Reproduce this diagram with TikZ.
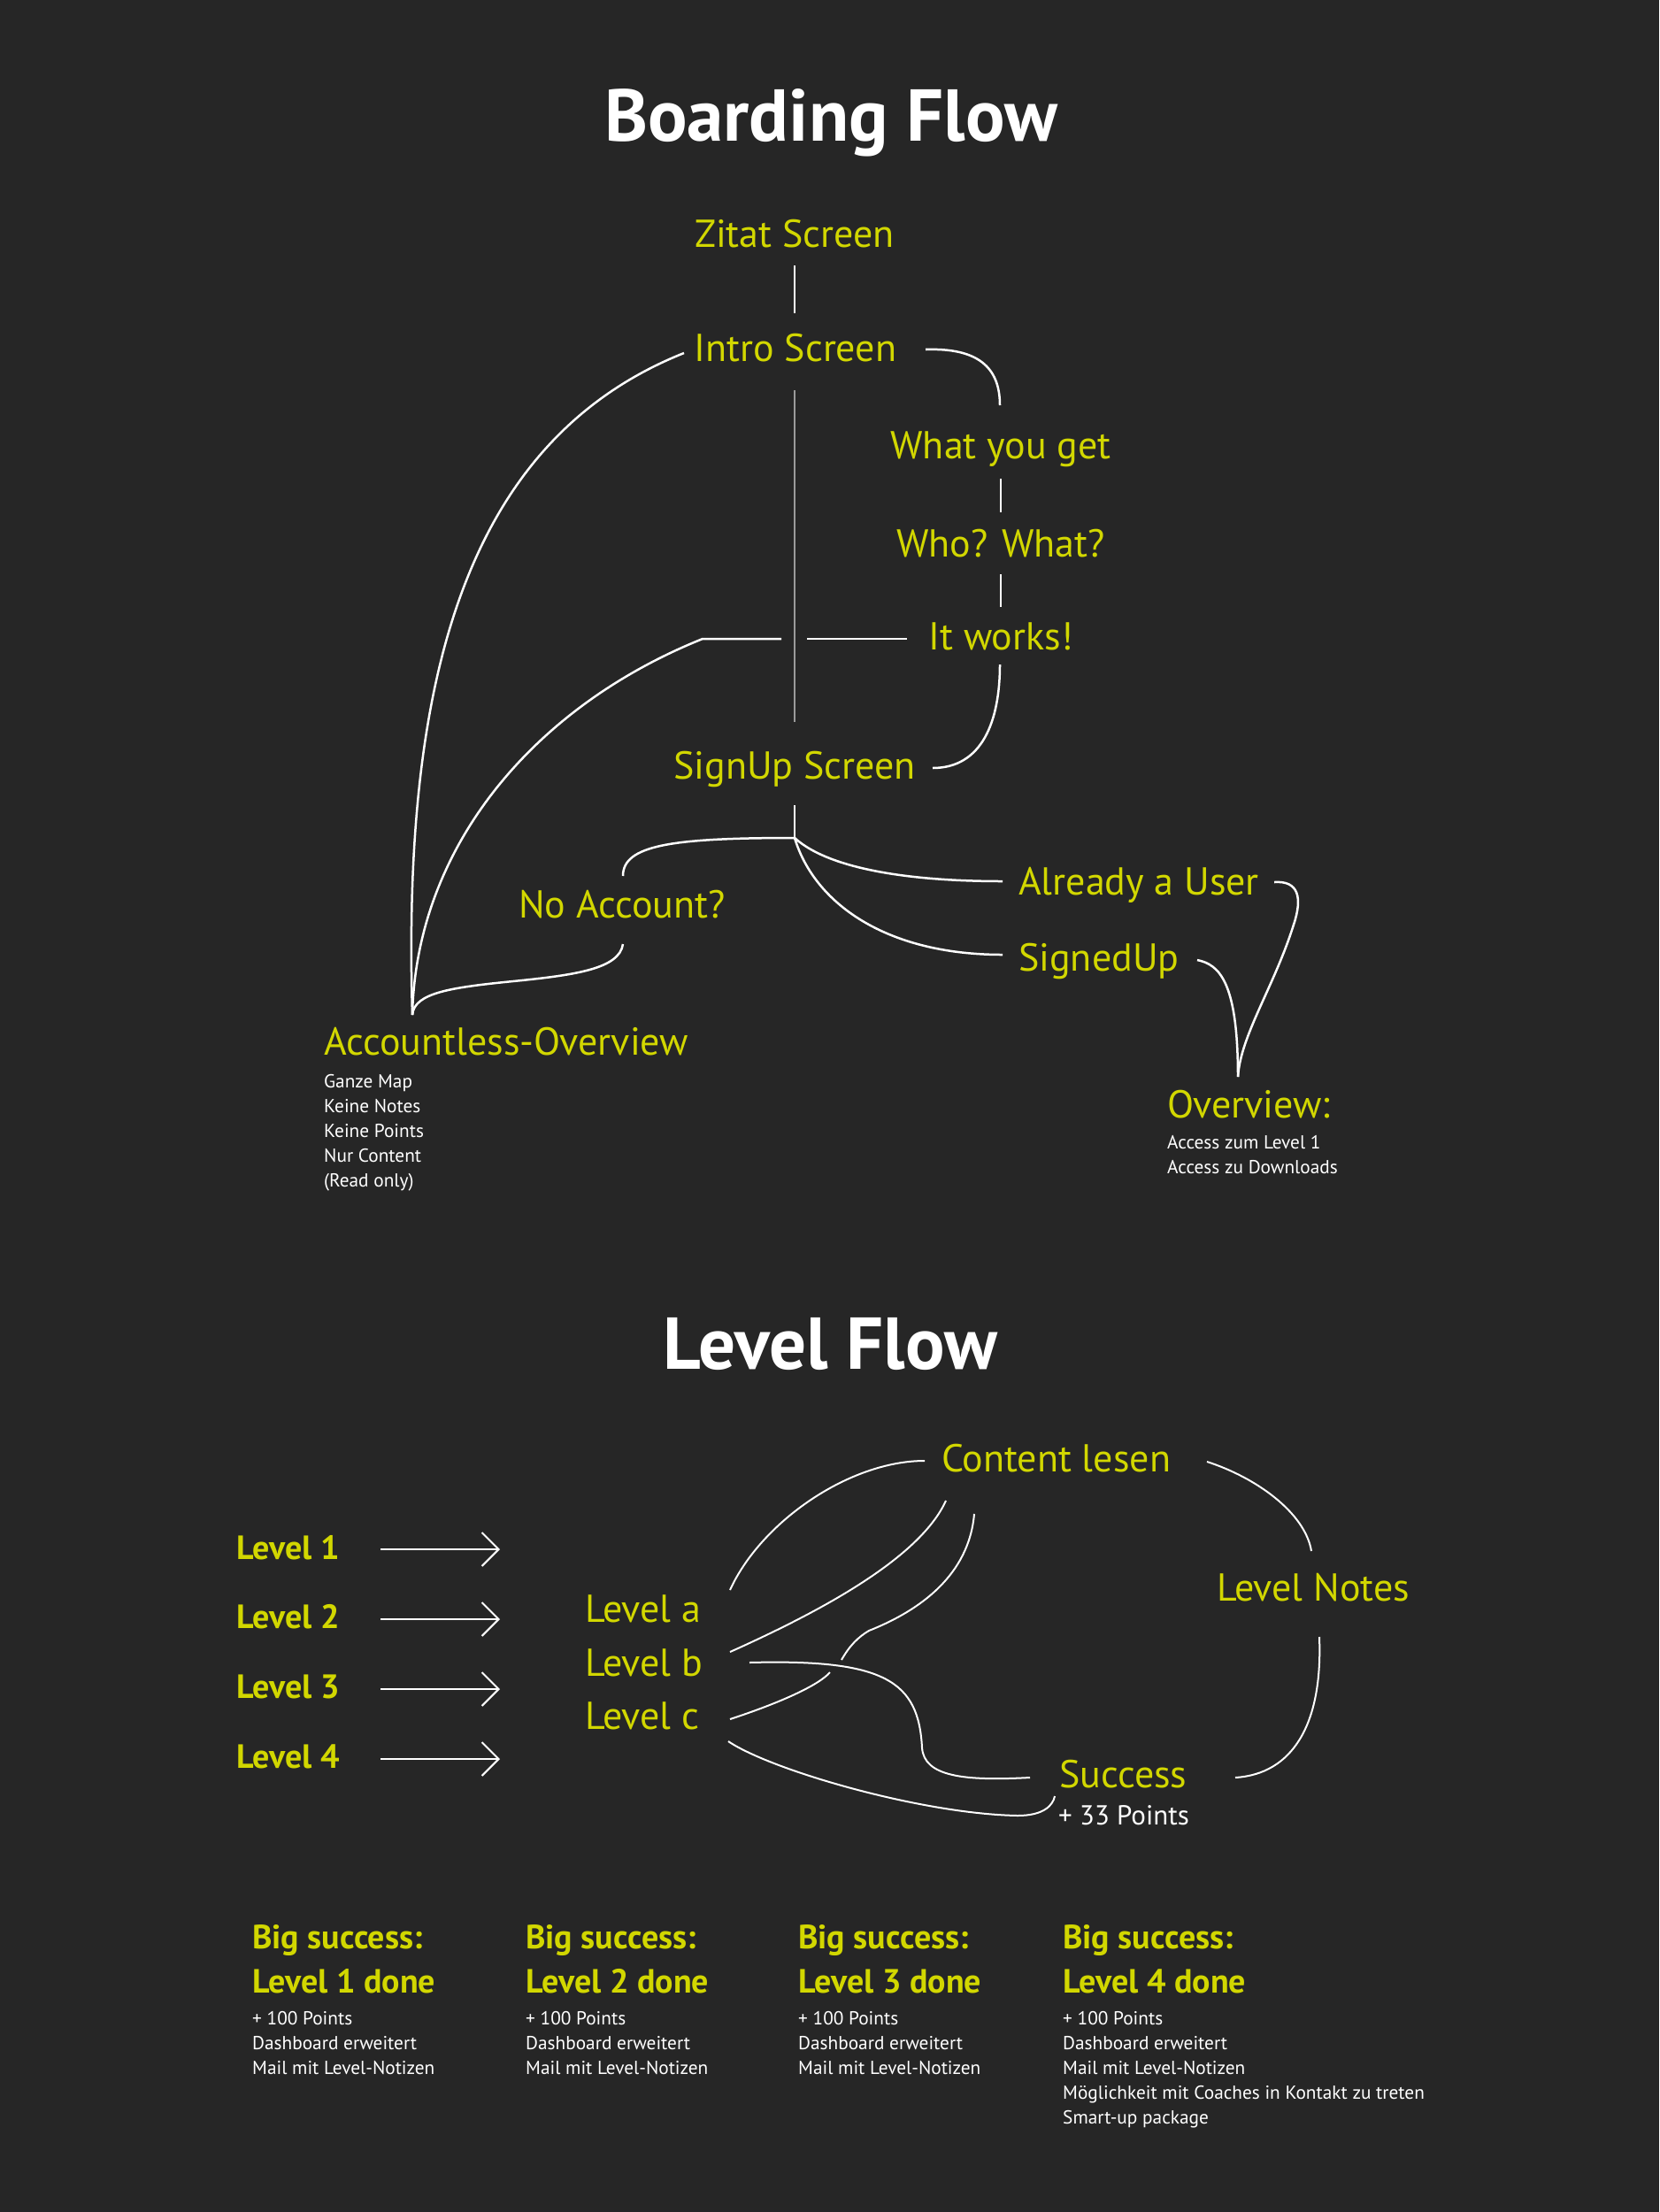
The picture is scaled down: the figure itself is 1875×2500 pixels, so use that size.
\documentclass[tikz,border=0pt]{standalone}
\usepackage{fontspec}
\setmainfont{PT Sans}
\usetikzlibrary{arrows.meta}
\definecolor{bg}{HTML}{262626}
\definecolor{yel}{HTML}{D2D700}
\definecolor{gry}{HTML}{9A9A9A}
\tikzset{
  lbl/.style={text=yel, font=\fontsize{44}{52}\selectfont, inner sep=0pt, anchor=base},
  lblw/.style={lbl, anchor=base west},
  ttl/.style={text=white, font=\bfseries\fontsize{83}{100}\selectfont, inner sep=0pt, anchor=base},
  lvl/.style={text=yel, font=\bfseries\fontsize{38}{50}\selectfont, inner sep=0pt, anchor=base west},
  note/.style={text=white, font=\fontsize{21.3}{28}\selectfont, inner sep=0pt, anchor=base west},
  conn/.style={draw=white, line width=2.5pt},
  thinconn/.style={draw=white, line width=2pt},
  arr/.style={draw=white, line width=2pt, -{Straight Barb[length=19pt,width=38pt]}},
}
\begin{document}
\begin{tikzpicture}[x=1pt,y=-1pt]
\fill[bg] (0,0) rectangle (1875,2500);
\useasboundingbox (0,0) rectangle (1875,2500);

% ---------- Titles
\node[ttl] (tboard) at (939,159) {Boarding Flow};
\node[ttl] (tlevel) at (938,1547) {Level Flow};

% ---------- Boarding flow nodes
\node[lbl] (zitat) at (898,279) {Zitat Screen};
\node[lbl] (intro) at (899,408) {Intro Screen};
\node[lbl] (what) at (1131,518) {What you get};
\node[lbl] (who) at (1131,629) {Who? What?};
\node[lbl] (works) at (1131,734) {It works!};
\node[lbl] (signup) at (898,880) {SignUp Screen};
\node[lbl] (noacc) at (703,1037) {No Account?};
\node[lblw] (already) at (1151,1011) {Already a User};
\node[lblw] (signed) at (1151,1097) {SignedUp};
\node[lblw] (overview) at (1319,1263) {Overview:};
\node[lblw] (accless) at (366,1192) {Accountless-Overview};
\node[note] (acclist) at (366,1229) {\parbox[t]{400pt}{Ganze Map\\Keine Notes\\Keine Points\\Nur Content\\(Read only)}};
\node[note] (ovlist) at (1319,1298) {\parbox[t]{400pt}{Access zum Level 1\\Access zu Downloads}};

% connector points
\coordinate (zitat-s) at (898,300);
\coordinate (intro-n) at (898,354);
\coordinate (intro-e) at (1046,395);
\coordinate (what-n) at (1130,458);
\coordinate (what-s) at (1131,541);
\coordinate (who-n) at (1131,579);
\coordinate (who-s) at (1131,649);
\coordinate (works-n) at (1131,686);
\coordinate (works-s) at (1130,751);
\coordinate (signup-e) at (1054,868);
\coordinate (works-w) at (1025,722);
\coordinate (gap-e) at (912,722);
\coordinate (gap-w) at (883,722);
\coordinate (bend) at (794,722);
\coordinate (intro-w) at (773,399);
\coordinate (acc-j) at (466,1147);
\coordinate (gray-top) at (898,441);
\coordinate (gray-bot) at (898,816);
\coordinate (signup-s) at (898,910);
\coordinate (su-j) at (898,947);
\coordinate (noacc-n) at (704,990);
\coordinate (noacc-s) at (704,1067);
\coordinate (already-w) at (1133,996);
\coordinate (signed-w) at (1133,1079);
\coordinate (already-e) at (1440,997);
\coordinate (signed-e) at (1353,1085);
\coordinate (ov-j) at (1399,1217);

\draw[conn] (zitat-s) -- (intro-n);
\draw[conn] (intro-e) .. controls (1105,393) and (1130,415) .. (what-n);
\draw[conn] (what-s) -- (who-n);
\draw[conn] (who-s) -- (works-n);
\draw[conn] (works-s) .. controls (1130,815) and (1110,868) .. (signup-e);
\draw[gry, line width=2.5pt] (gray-top) -- (gray-bot);
\draw[conn] (works-w) -- (gap-e);
\draw[conn] (gap-w) -- (bend) .. controls (600,800) and (470,960) .. (acc-j);
\draw[conn] (intro-w) .. controls (520,500) and (455,780) .. (acc-j);
\draw[conn] (signup-s) -- (su-j);
\draw[conn] (su-j) .. controls (760,947) and (704,955) .. (noacc-n);
\draw[conn] (noacc-s) .. controls (700,1095) and (650,1102) .. (580,1109)
                      .. controls (510,1116) and (468,1122) .. (acc-j);
\draw[conn] (su-j) .. controls (940,985) and (1040,996) .. (already-w);
\draw[conn] (su-j) .. controls (920,1020) and (1000,1079) .. (signed-w);
\draw[conn] (already-e) .. controls (1468,995) and (1472,1015) .. (1462,1045)
                        .. controls (1440,1115) and (1402,1170) .. (ov-j);
\draw[conn] (signed-e) .. controls (1378,1090) and (1399,1110) .. (ov-j);

% ---------- Level flow nodes
\node[lvl] (l1) at (267,1762) {Level 1};
\node[lvl] (l2) at (267,1840) {Level 2};
\node[lvl] (l3) at (267,1919) {Level 3};
\node[lvl] (l4) at (267,1998) {Level 4};
\node[lblw] (la) at (661,1833) {Level a};
\node[lblw] (lb) at (661,1894) {Level b};
\node[lblw] (lc) at (661,1954) {Level c};
\node[lblw] (content) at (1064,1663) {Content lesen};
\node[lblw] (notes) at (1375,1809) {Level Notes};
\node[lblw] (success) at (1197,2020) {Success};
\node[text=white, font=\fontsize{31}{36}\selectfont, inner sep=0pt, anchor=base west] (pts) at (1196,2062) {+ 33 Points};

\foreach \i/\y in {1/1751,2/1830,3/1909,4/1988}{
  \coordinate (a\i s) at (430,\y);
  \coordinate (a\i e) at (565,\y);
  \draw[arr] (a\i s) -- (a\i e);
}

\coordinate (la-e) at (825,1797);
\coordinate (cont-w) at (1045,1651);
\coordinate (lb-e) at (825,1867);
\coordinate (cont-s1) at (1069,1696);
\coordinate (cont-s2) at (1101,1711);
\coordinate (kink) at (982,1843);
\coordinate (mid-end) at (951,1876);
\coordinate (lc-e) at (825,1943);
\coordinate (lc-end) at (938,1890);
\coordinate (lb-e2) at (847,1879);
\coordinate (succ-w) at (1164,2009);
\coordinate (lc-e2) at (823,1968);
\coordinate (succ-sw) at (1192,2030);
\coordinate (cont-e) at (1364,1652);
\coordinate (notes-n) at (1482,1753);
\coordinate (notes-s) at (1491,1850);
\coordinate (succ-e) at (1396,2009);

\draw[thinconn] (la-e) .. controls (860,1720) and (960,1651) .. (cont-w);
\draw[thinconn] (lb-e) .. controls (930,1820) and (1040,1760) .. (cont-s1);
\draw[thinconn] (cont-s2) .. controls (1095,1780) and (1040,1820) .. (kink)
                          .. controls (970,1850) and (960,1860) .. (mid-end);
\draw[thinconn] (lc-e) .. controls (880,1925) and (925,1905) .. (lc-end);
\draw[thinconn] (lb-e2) .. controls (1000,1875) and (1038,1900) .. (1042,1975)
                        .. controls (1044,2008) and (1090,2013) .. (succ-w);
\draw[thinconn] (lc-e2) .. controls (870,2000) and (1040,2050) .. (1150,2052)
                        .. controls (1180,2052) and (1190,2040) .. (succ-sw);
\draw[thinconn] (cont-e) .. controls (1420,1670) and (1475,1710) .. (notes-n);
\draw[thinconn] (notes-s) .. controls (1495,1950) and (1460,2005) .. (succ-e);

% ---------- Big success columns
\foreach \n/\x in {1/285,2/594,3/902}{
  \node[lvl] (bs\n) at (\x,2202) {\parbox[t]{400pt}{Big success:\\Level \n\ done}};
  \node[note] (bs\n list) at (\x,2288) {\parbox[t]{400pt}{+ 100 Points\\Dashboard erweitert\\Mail mit Level-Notizen}};
}
\node[lvl] (bs4) at (1201,2202) {\parbox[t]{400pt}{Big success:\\Level 4 done}};
\node[note] (bs4list) at (1201,2288) {\parbox[t]{500pt}{+ 100 Points\\Dashboard erweitert\\Mail mit Level-Notizen\\Möglichkeit mit Coaches in Kontakt zu treten\\Smart-up package}};
\end{tikzpicture}
\end{document}
